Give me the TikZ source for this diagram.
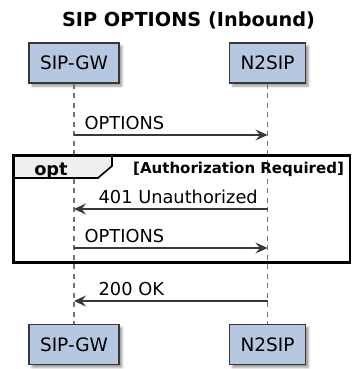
\documentclass[tikz,border=0pt]{standalone}
\usepackage{fontspec}
\setmainfont{DejaVu Sans}
\usetikzlibrary{positioning,arrows.meta,shadows.blur}
\definecolor{partfill}{RGB}{181,199,225}
\definecolor{partline}{RGB}{56,56,56}
\definecolor{tabfill}{RGB}{238,238,238}
\definecolor{lifegray}{RGB}{115,115,115}

\begin{document}
\begin{tikzpicture}[x=1pt, y=-1pt,
		part/.style={draw=partline, line width=1.4pt, fill=partfill, minimum height=40pt, inner xsep=11pt, font=\fontsize{18.5}{22}\selectfont, blur shadow={shadow xshift=3pt, shadow yshift=-3pt, shadow blur steps=4}},
		life/.style={draw=lifegray, line width=1.7pt, dash pattern=on 5pt off 4.5pt},
		msg/.style={draw=partline, line width=1.3pt, -{Stealth[length=12pt, width=11pt, inset=4.5pt]}},
		lblR/.style={pos=0, anchor=base west, xshift=10pt, yshift=5.5pt, inner sep=0pt, font=\fontsize{17.8}{21}\selectfont},
		lblL/.style={pos=1, anchor=base west, xshift=24pt, yshift=5.5pt, inner sep=0pt, font=\fontsize{17.8}{21}\selectfont}]
		\useasboundingbox (0,0) rectangle (353,369);
		\node[anchor=base, font=\bfseries\fontsize{19.3}{23}\selectfont] (title) at (188.5,26.5) {SIP OPTIONS (Inbound)};
		\node[part] (gwtop) at (74,63) {SIP-GW};
		\node[part] (nstop) at (267.5,63) {N2SIP};
		\node[part] (gwbot) at (74,344.5) {SIP-GW};
		\node[part] (nsbot) at (267.5,344.5) {N2SIP};
		\draw[life] (gwtop) -- (gwbot);
		\draw[life] (nstop) -- (nsbot);
		\foreach \n/\y in {a/135, b/209, c/248, d/301} {
			\coordinate (gw\n) at (74,\y);
			\coordinate (ns\n) at (267.5,\y);
		}
		\draw[fill=tabfill, line width=1.6pt] (13.5,155.5) -- (112,155.5) -- (112,166) -- (98,178) -- (13.5,178) -- cycle;
		\draw[line width=2.6pt] (13.5,155.5) rectangle (350,262.5);
		\node[anchor=base, font=\bfseries\fontsize{17.8}{21}\selectfont] (optlbl) at (51,175) {opt};
		\node[anchor=base west, inner sep=0pt, font=\bfseries\fontsize{15}{18}\selectfont] (cond) at (133,173) {[Authorization Required]};
		\draw[msg] (gwa) -- node[lblR] {OPTIONS} (nsa);
		\draw[msg] (nsb) -- node[lblL] {401 Unauthorized} (gwb);
		\draw[msg] (gwc) -- node[lblR] {OPTIONS} (nsc);
		\draw[msg] (nsd) -- node[lblL] {200 OK} (gwd);
	\end{tikzpicture}
\end{document}
